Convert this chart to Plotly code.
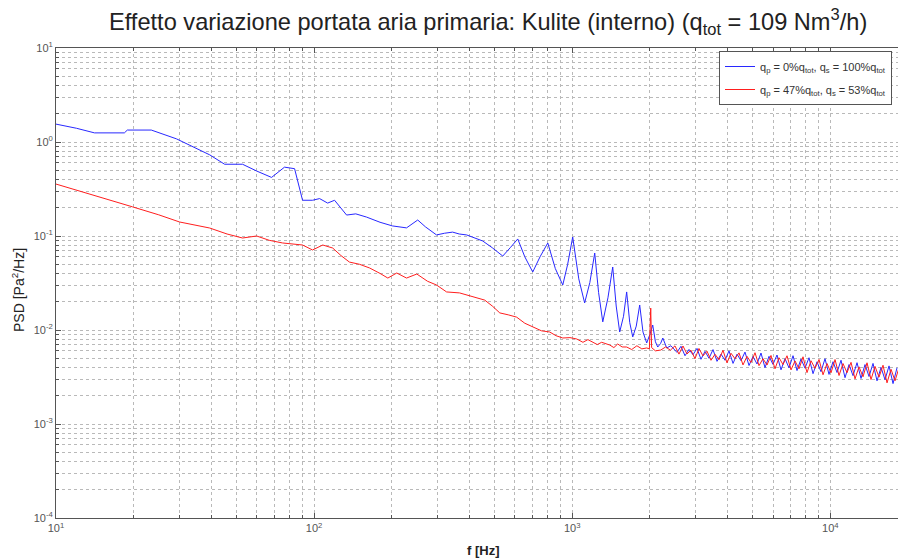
import plotly.graph_objects as go

# ---- Data: blue series (q_p = 0%, q_s = 100%) ----
blue_f_low = [10, 12, 14.1, 18.4, 18.9, 23.4, 29.3, 34, 39.4, 45.0, 52.8, 60, 68.4, 76.8, 84.0, 90.2,
              98.6, 105, 112.8, 120, 133.6, 145, 159.6, 180, 201, 228, 240, 252, 270, 298, 320, 344,
              365, 390, 420, 450, 490, 538, 575, 615, 655, 703, 750, 804, 860, 919, 960, 1004, 1060,
              1117, 1170, 1222, 1265, 1313, 1375, 1435, 1480, 1527, 1580, 1625, 1670, 1715, 1770,
              1825, 1880, 1943, 2000, 2050, 2100, 2144, 2200, 2243, 2323, 2410]
blue_psd_low = [1.55, 1.40, 1.25, 1.25, 1.34, 1.34, 1.08, 0.88, 0.73, 0.58, 0.58, 0.49, 0.42, 0.54, 0.52, 0.24,
                0.24, 0.25, 0.224, 0.24, 0.167, 0.172, 0.159, 0.14, 0.128, 0.122, 0.135, 0.148, 0.125, 0.1026, 0.107, 0.110,
                0.105, 0.1026, 0.095, 0.0885, 0.075, 0.0612, 0.075, 0.093, 0.06, 0.0414, 0.06, 0.0843, 0.045, 0.0301, 0.05, 0.0975, 0.035,
                0.0194, 0.032, 0.0659, 0.025, 0.0122, 0.022, 0.0468, 0.018, 0.00952, 0.014, 0.0254, 0.012, 0.00844, 0.011,
                0.01845, 0.0095, 0.00728, 0.009, 0.0113, 0.0075, 0.00659, 0.0072, 0.00822, 0.00644, 0.0068]
blue_f_high = [2545, 2638, 2734, 2833, 2936, 3043, 3153, 3268, 3387, 3510, 3638, 3770, 3907, 4048, 4196, 4348,
               4506, 4669, 4839, 5015, 5197, 5386, 5582, 5784, 5994, 6212, 6438, 6672, 6914, 7166, 7426, 7696,
               7975, 8265, 8566, 8877, 9199, 9533, 9880, 10239, 10611, 10996, 11396, 11810, 12239, 12684, 13145,
               13623, 14118, 14631, 15162, 15713, 16284, 16876, 17488, 18123]
blue_psd_high = [5.78e-3, 6.71e-3, 5.32e-3, 6.21e-3, 5.46e-3, 6.37e-3, 4.88e-3, 5.93e-3, 5.00e-3, 6.19e-3,
                 4.64e-3, 5.54e-3, 4.76e-3, 6.00e-3, 4.41e-3, 5.53e-3, 4.72e-3, 5.82e-3, 4.19e-3, 5.22e-3,
                 4.35e-3, 5.69e-3, 3.98e-3, 5.25e-3, 4.31e-3, 5.42e-3, 3.77e-3, 4.95e-3, 3.96e-3, 5.33e-3,
                 3.70e-3, 4.92e-3, 3.93e-3, 5.07e-3, 3.43e-3, 4.59e-3, 3.60e-3, 4.95e-3, 3.37e-3, 4.60e-3,
                 3.53e-3, 4.77e-3, 3.11e-3, 4.29e-3, 3.27e-3, 4.49e-3, 3.05e-3, 4.29e-3, 3.20e-3, 4.41e-3,
                 2.88e-3, 4.00e-3, 2.96e-3, 4.15e-3, 2.69e-3, 3.96e-3]

# ---- Data: red series (q_p = 47%, q_s = 53%) ----
red_f_low = [10, 13, 16, 19.8, 25, 30.1, 39.4, 46, 52.8, 59.9, 67, 75.5, 90.2, 98.6, 108, 118, 127, 137,
             150, 164, 180, 193, 209, 228, 250, 275, 298, 326, 366, 411, 458, 490, 524, 565, 609, 655,
             703, 760, 818, 865, 919, 980, 1041, 1100, 1150, 1200, 1250, 1300, 1397, 1450, 1500, 1560,
             1625, 1700, 1780, 1860, 1943, 1990, 2014, 2030, 2100, 2202, 2300, 2400]
red_psd_low = [0.357, 0.29, 0.245, 0.204, 0.168, 0.141, 0.1216, 0.105, 0.0952, 0.100, 0.090, 0.0843, 0.0802, 0.0710, 0.0802, 0.0745, 0.062, 0.0528,
               0.050, 0.0457, 0.040, 0.0357, 0.0404, 0.0357, 0.0394, 0.033, 0.0301, 0.0254, 0.0248, 0.0225, 0.0208, 0.018, 0.0152, 0.0145, 0.0137, 0.0118,
               0.0108, 0.0098, 0.00952, 0.0087, 0.00822, 0.0083, 0.00802, 0.0074, 0.0079, 0.00745, 0.0070, 0.0074, 0.00692, 0.0065, 0.0071, 0.0066,
               0.00659, 0.0062, 0.0068, 0.0063, 0.00644, 0.0063, 0.0171, 0.0065, 0.0060, 0.00612, 0.0066, 0.0061]
red_f_high = [2500, 2591, 2685, 2783, 2884, 2989, 3097, 3210, 3327, 3448, 3573, 3703, 3837, 3977, 4121, 4271,
              4426, 4587, 4753, 4926, 5105, 5291, 5483, 5682, 5888, 6102, 6324, 6554, 6792, 7039, 7295, 7560,
              7834, 8119, 8414, 8720, 9036, 9365, 9705, 10058, 10423, 10802, 11194, 11601, 12023, 12460, 12912,
              13381, 13868, 14371, 14894, 15435, 15996, 16577, 17179, 17803, 18450]
red_psd_high = [6.78e-3, 5.54e-3, 6.76e-3, 5.56e-3, 6.10e-3, 4.95e-3, 6.36e-3, 5.30e-3, 5.95e-3, 4.76e-3,
                5.52e-3, 4.83e-3, 6.09e-3, 4.47e-3, 5.66e-3, 4.95e-3, 5.71e-3, 4.25e-3, 5.25e-3, 4.51e-3,
                5.73e-3, 4.18e-3, 4.95e-3, 4.24e-3, 5.36e-3, 3.87e-3, 5.07e-3, 4.29e-3, 5.32e-3, 3.76e-3,
                4.69e-3, 3.86e-3, 5.19e-3, 3.52e-3, 4.71e-3, 3.91e-3, 4.86e-3, 3.34e-3, 4.40e-3, 3.51e-3,
                4.85e-3, 3.28e-3, 4.40e-3, 3.51e-3, 4.53e-3, 3.02e-3, 4.06e-3, 3.18e-3, 4.48e-3, 2.97e-3,
                4.10e-3, 3.15e-3, 4.22e-3, 2.74e-3, 3.82e-3, 2.88e-3, 3.97e-3]

# ---- Axis tick labels ----
x_tickvals = [10, 100, 1000, 10000]
x_ticktext = ["10<sup>1</sup>", "10<sup>2</sup>", "10<sup>3</sup>", "10<sup>4</sup>"]
y_tickvals = [1e-4, 1e-3, 1e-2, 1e-1, 1, 10]
y_ticktext = ["10<sup>-4</sup>", "10<sup>-3</sup>", "10<sup>-2</sup>", "10<sup>-1</sup>", "10<sup>0</sup>", "10<sup>1</sup>"]

legend_blue = "q<sub>p</sub> = 0%q<sub>tot</sub>, q<sub>s</sub> = 100%q<sub>tot</sub>"
legend_red = "q<sub>p</sub> = 47%q<sub>tot</sub>, q<sub>s</sub> = 53%q<sub>tot</sub>"
title_text = "Effetto variazione portata aria primaria: Kulite (interno) (q<sub>tot</sub> = 109 Nm<sup>3</sup>/h)"

W, H = 898, 560
L, R, T, B = 56, 0, 48, 42
PW, PH = W - L - R, H - T - B


def px_x(p):
    return (p - L) / PW


def px_y(p):
    return (H - B - p) / PH


x_minor = [m * 10 ** k for k in range(1, 5) for m in range(2, 10)]
y_minor = [m * 10.0 ** k for k in range(-4, 1) for m in range(2, 10)]

fig = go.Figure()
fig.add_trace(go.Scatter(x=blue_f_low + blue_f_high, y=blue_psd_low + blue_psd_high, mode="lines",
                         line=dict(color="rgb(40,40,255)", width=1), name=legend_blue, legendgroup="a"))
fig.add_trace(go.Scatter(x=red_f_low + red_f_high, y=red_psd_low + red_psd_high, mode="lines",
                         line=dict(color="rgb(255,30,30)", width=1), name=legend_red, legendgroup="b"))

grid = "rgb(185,185,185)"
axis_common = dict(
    type="log", tickmode="array",
    showline=True, linecolor="#555", linewidth=1,
    ticks="inside", ticklen=5, tickcolor="#555",
    showgrid=True, gridcolor=grid, griddash="dot", gridwidth=1,
    tickfont=dict(family="Liberation Sans, Arial", size=11, color="#555"),
    zeroline=False,
)
minor_common = dict(ticks="inside", ticklen=3, tickcolor="#555", showgrid=True,
                    gridcolor=grid, griddash="dot", gridwidth=1, tickmode="array")

fig.update_layout(
    width=W, height=H,
    margin=dict(l=L, r=R, t=T, b=B),
    paper_bgcolor="white", plot_bgcolor="white",
    showlegend=True,
    legend=dict(x=px_x(719), y=px_y(51), xanchor="left", yanchor="top",
                bgcolor="white", bordercolor="#555", borderwidth=1,
                font=dict(family="Liberation Sans, Arial", size=11, color="#333"),
                tracegroupgap=4, itemwidth=30),
    xaxis=dict(axis_common, range=[1, 4.262], mirror="allticks",
               tickvals=x_tickvals, ticktext=x_ticktext,
               minor=dict(minor_common, tickvals=x_minor)),
    yaxis=dict(axis_common, range=[-4, 1], mirror=False,
               tickvals=y_tickvals, ticktext=y_ticktext,
               minor=dict(minor_common, tickvals=y_minor)),
    annotations=[
        dict(text=title_text, xref="paper", yref="paper", x=px_x(487.5), y=px_y(22),
             xanchor="center", yanchor="middle", showarrow=False,
             font=dict(family="Liberation Sans, Arial", size=23.6, color="#222")),
        dict(text="<b>f [Hz]</b>", xref="paper", yref="paper", x=px_x(483), y=px_y(550),
             xanchor="center", yanchor="middle", showarrow=False,
             font=dict(family="Liberation Sans, Arial", size=13, color="#222")),
        dict(text="PSD [Pa<sup>2</sup>/Hz]", xref="paper", yref="paper", x=px_x(18), y=px_y(290),
             xanchor="center", yanchor="middle", showarrow=False, textangle=-90,
             font=dict(family="Liberation Sans, Arial", size=14, color="#222")),
    ],
)
fig.write_html("out.html", config={"displayModeBar": False},
               post_script="document.body.style.margin='0px';")
